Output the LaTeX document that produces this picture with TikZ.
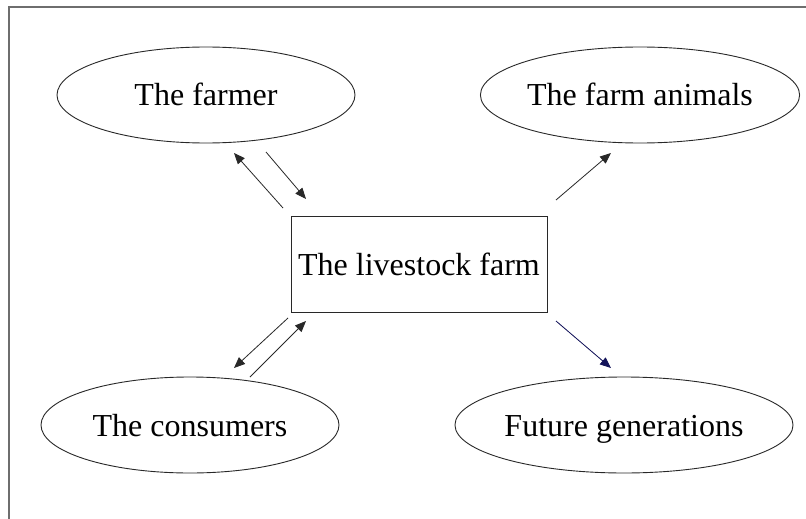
\documentclass[tikz,border=0pt]{standalone}
\usepackage{fontspec}
\setmainfont{Liberation Serif}
\usetikzlibrary{shapes.geometric,arrows.meta}
\definecolor{framegray}{RGB}{110,110,110}
\definecolor{linegray}{RGB}{40,40,40}
\definecolor{arrownavy}{RGB}{20,20,90}
\tikzset{
  bubble/.style={draw=linegray, line width=0.9pt, ellipse, inner sep=0pt,
    minimum width=298pt, minimum height=96pt,
    font=\fontsize{32}{38}\selectfont, text height=22pt, text depth=0pt},
  farmbox/.style={draw=linegray, line width=1pt, rectangle, inner sep=0pt,
    minimum width=256pt, minimum height=96pt,
    font=\fontsize{32}{38}\selectfont, text height=22pt, text depth=0pt},
  link/.style={draw=linegray, line width=0.8pt, -{Triangle[length=11pt,width=9pt]}},
}
\begin{document}
\begin{tikzpicture}[x=1pt,y=1pt]
\useasboundingbox[fill=white] (0,0) rectangle (806,-519);
\draw[framegray, line width=2pt] (9,-519) -- (9,-7) -- (806,-7);

\node[bubble] (farmer) at (206,-95) {The farmer};
\node[bubble] (animals) at (640,-95) {The farm animals};
\node[bubble] (consumers) at (190,-425) {The consumers};
\node[bubble] (future) at (624,-425) {Future generations};
\node[farmbox] (farm) at (419,-264) {The livestock farm};

\coordinate (f1s) at (283,-208); \coordinate (f1e) at (234,-153);
\coordinate (f2s) at (266,-152); \coordinate (f2e) at (306,-199);
\coordinate (c1s) at (288,-318); \coordinate (c1e) at (234,-368);
\coordinate (c2s) at (250,-377); \coordinate (c2e) at (306,-321);
\coordinate (a1s) at (556,-200); \coordinate (a1e) at (611,-153);
\coordinate (g1s) at (556,-321); \coordinate (g1e) at (611,-368);

\draw[link] (f1s) -- (f1e);
\draw[link] (f2s) -- (f2e);
\draw[link] (c1s) -- (c1e);
\draw[link] (c2s) -- (c2e);
\draw[link] (a1s) -- (a1e);
\draw[link, draw=arrownavy, fill=arrownavy] (g1s) -- (g1e);
\end{tikzpicture}
\end{document}
